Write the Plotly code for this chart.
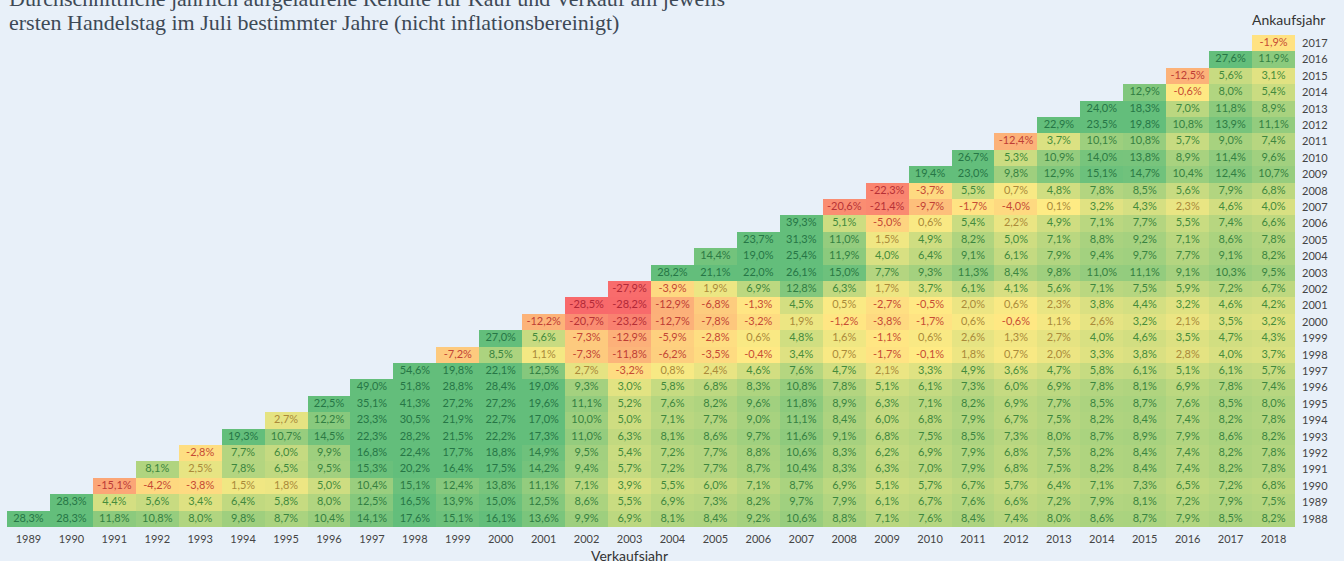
import plotly.graph_objects as go

# ---------------- data ----------------
sell_years = list(range(1989, 2019))   # Verkaufsjahr (columns)
buy_years = list(range(1988, 2018))    # Ankaufsjahr (rows)

# annualised return (%) for each buy year, sell years buy+1 .. 2018
r1988 = [28.3, 28.3, 11.8, 10.8, 8.0, 9.8, 8.7, 10.4, 14.1, 17.6, 15.1, 16.1, 13.6, 9.9, 6.9,
         8.1, 8.4, 9.2, 10.6, 8.8, 7.1, 7.6, 8.4, 7.4, 8.0, 8.6, 8.7, 7.9, 8.5, 8.2]
r1989 = [28.3, 4.4, 5.6, 3.4, 6.4, 5.8, 8.0, 12.5, 16.5, 13.9, 15.0, 12.5, 8.6, 5.5, 6.9,
         7.3, 8.2, 9.7, 7.9, 6.1, 6.7, 7.6, 6.6, 7.2, 7.9, 8.1, 7.2, 7.9, 7.5]
r1990 = [-15.1, -4.2, -3.8, 1.5, 1.8, 5.0, 10.4, 15.1, 12.4, 13.8, 11.1, 7.1, 3.9, 5.5, 6.0,
         7.1, 8.7, 6.9, 5.1, 5.7, 6.7, 5.7, 6.4, 7.1, 7.3, 6.5, 7.2, 6.8]
r1991 = [8.1, 2.5, 7.8, 6.5, 9.5, 15.3, 20.2, 16.4, 17.5, 14.2, 9.4, 5.7, 7.2, 7.7, 8.7,
         10.4, 8.3, 6.3, 7.0, 7.9, 6.8, 7.5, 8.2, 8.4, 7.4, 8.2, 7.8]
r1992 = [-2.8, 7.7, 6.0, 9.9, 16.8, 22.4, 17.7, 18.8, 14.9, 9.5, 5.4, 7.2, 7.7, 8.8, 10.6,
         8.3, 6.2, 6.9, 7.9, 6.8, 7.5, 8.2, 8.4, 7.4, 8.2, 7.8]
r1993 = [19.3, 10.7, 14.5, 22.3, 28.2, 21.5, 22.2, 17.3, 11.0, 6.3, 8.1, 8.6, 9.7, 11.6, 9.1,
         6.8, 7.5, 8.5, 7.3, 8.0, 8.7, 8.9, 7.9, 8.6, 8.2]
r1994 = [2.7, 12.2, 23.3, 30.5, 21.9, 22.7, 17.0, 10.0, 5.0, 7.1, 7.7, 9.0, 11.1, 8.4, 6.0,
         6.8, 7.9, 6.7, 7.5, 8.2, 8.4, 7.4, 8.2, 7.8]
r1995 = [22.5, 35.1, 41.3, 27.2, 27.2, 19.6, 11.1, 5.2, 7.6, 8.2, 9.6, 11.8, 8.9, 6.3, 7.1,
         8.2, 6.9, 7.7, 8.5, 8.7, 7.6, 8.5, 8.0]
r1996 = [49.0, 51.8, 28.8, 28.4, 19.0, 9.3, 3.0, 5.8, 6.8, 8.3, 10.8, 7.8, 5.1, 6.1, 7.3,
         6.0, 6.9, 7.8, 8.1, 6.9, 7.8, 7.4]
r1997 = [54.6, 19.8, 22.1, 12.5, 2.7, -3.2, 0.8, 2.4, 4.6, 7.6, 4.7, 2.1, 3.3, 4.9, 3.6,
         4.7, 5.8, 6.1, 5.1, 6.1, 5.7]
r1998 = [-7.2, 8.5, 1.1, -7.3, -11.8, -6.2, -3.5, -0.4, 3.4, 0.7, -1.7, -0.1, 1.8, 0.7, 2.0,
         3.3, 3.8, 2.8, 4.0, 3.7]
r1999 = [27.0, 5.6, -7.3, -12.9, -5.9, -2.8, 0.6, 4.8, 1.6, -1.1, 0.6, 2.6, 1.3, 2.7, 4.0,
         4.6, 3.5, 4.7, 4.3]
r2000 = [-12.2, -20.7, -23.2, -12.7, -7.8, -3.2, 1.9, -1.2, -3.8, -1.7, 0.6, -0.6, 1.1, 2.6,
         3.2, 2.1, 3.5, 3.2]
r2001 = [-28.5, -28.2, -12.9, -6.8, -1.3, 4.5, 0.5, -2.7, -0.5, 2.0, 0.6, 2.3, 3.8, 4.4, 3.2,
         4.6, 4.2]
r2002 = [-27.9, -3.9, 1.9, 6.9, 12.8, 6.3, 1.7, 3.7, 6.1, 4.1, 5.6, 7.1, 7.5, 5.9, 7.2, 6.7]
r2003 = [28.2, 21.1, 22.0, 26.1, 15.0, 7.7, 9.3, 11.3, 8.4, 9.8, 11.0, 11.1, 9.1, 10.3, 9.5]
r2004 = [14.4, 19.0, 25.4, 11.9, 4.0, 6.4, 9.1, 6.1, 7.9, 9.4, 9.7, 7.7, 9.1, 8.2]
r2005 = [23.7, 31.3, 11.0, 1.5, 4.9, 8.2, 5.0, 7.1, 8.8, 9.2, 7.1, 8.6, 7.8]
r2006 = [39.3, 5.1, -5.0, 0.6, 5.4, 2.2, 4.9, 7.1, 7.7, 5.5, 7.4, 6.6]
r2007 = [-20.6, -21.4, -9.7, -1.7, -4.0, 0.1, 3.2, 4.3, 2.3, 4.6, 4.0]
r2008 = [-22.3, -3.7, 5.5, 0.7, 4.8, 7.8, 8.5, 5.6, 7.9, 6.8]
r2009 = [19.4, 23.0, 9.8, 12.9, 15.1, 14.7, 10.4, 12.4, 10.7]
r2010 = [26.7, 5.3, 10.9, 14.0, 13.8, 8.9, 11.4, 9.6]
r2011 = [-12.4, 3.7, 10.1, 10.8, 5.7, 9.0, 7.4]
r2012 = [22.9, 23.5, 19.8, 10.8, 13.9, 11.1]
r2013 = [24.0, 18.3, 7.0, 11.8, 8.9]
r2014 = [12.9, -0.6, 8.0, 5.4]
r2015 = [-12.5, 5.6, 3.1]
r2016 = [27.6, 11.9]
r2017 = [-1.9]

rows = [r1988, r1989, r1990, r1991, r1992, r1993, r1994, r1995, r1996, r1997,
        r1998, r1999, r2000, r2001, r2002, r2003, r2004, r2005, r2006, r2007,
        r2008, r2009, r2010, r2011, r2012, r2013, r2014, r2015, r2016, r2017]

title_line1 = "Durchschnittliche jährlich aufgelaufene Rendite für Kauf und Verkauf am jeweils"
title_line2 = "ersten Handelstag im Juli bestimmter Jahre (nicht inflationsbereinigt)"

# ---------------- build matrix ----------------
z = []
for row in rows:
    z.append([None] * (len(sell_years) - len(row)) + row)

tx, ty, tt, tc = [], [], [], []


def lerp(c1, c2, t):
    t = max(0.0, min(1.0, t))
    return tuple(int(round(a + (b - a) * t)) for a, b in zip(c1, c2))


def text_color(v):
    if v < 0:
        c = lerp((200, 78, 52), (178, 40, 55), -v / 28.5)
    elif v < 3:
        c = (170, 138, 58)
    else:
        c = lerp((72, 142, 58), (38, 118, 70), (v - 3) / 14)
    return "rgb(%d,%d,%d)" % c


for b, row in zip(buy_years, z):
    for s, v in zip(sell_years, row):
        if v is None:
            continue
        tx.append(s)
        ty.append(b)
        tt.append(("%.1f" % v).replace(".", ",") + "%")
        tc.append(text_color(v))

zmin, zmax = -28.5, 16.0
mid = (0 - zmin) / (zmax - zmin)
colorscale = [[0.0, "#F8696B"], [mid, "#FFEB84"], [1.0, "#63BE7B"]]

BG = "#e8f0f9"
FONT = "Lato"

fig = go.Figure()
fig.add_trace(go.Heatmap(
    x=sell_years, y=buy_years, z=z,
    zmin=zmin, zmax=zmax, colorscale=colorscale,
    showscale=False, hoverongaps=False, xgap=0, ygap=0,
))
fig.add_trace(go.Scatter(
    x=tx, y=ty, text=tt, mode="text",
    textfont=dict(family=FONT, size=11, color=tc),
    hoverinfo="skip", showlegend=False,
))

W, H = 1344, 561
ml, mr, mt, mb = 7, 49, 35, 34
ph = H - mt - mb
pw = W - ml - mr


def py(pix):
    return (H - mb - pix) / ph


def px(pix):
    return (pix - ml) / pw


fig.update_layout(
    width=W, height=H,
    margin=dict(l=ml, r=mr, t=mt, b=mb, pad=0),
    paper_bgcolor=BG, plot_bgcolor=BG,
    showlegend=False,
    font=dict(family=FONT, color="#444444", size=11),
    xaxis=dict(range=[1988.5, 2018.5], tickmode="array", tickvals=sell_years,
               ticktext=[str(y) for y in sell_years], showgrid=False, zeroline=False,
               showline=False, ticks="", ticklabelstandoff=4,
               tickfont=dict(family=FONT, size=11, color="#444444")),
    yaxis=dict(range=[1987.5, 2017.5], tickmode="array", tickvals=buy_years,
               ticktext=[str(y) for y in buy_years], side="right", showgrid=False,
               zeroline=False, showline=False, ticks="", ticklabelstandoff=6,
               tickfont=dict(family=FONT, size=11, color="#444444")),
    annotations=[
        dict(text=title_line1, xref="paper", yref="paper", x=px(7),
             y=py(-2), xanchor="left", yanchor="middle", showarrow=False,
             font=dict(family="Liberation Serif", size=22, color="#3d4956")),
        dict(text=title_line2, xref="paper", yref="paper", x=px(7),
             y=py(22), xanchor="left", yanchor="middle", showarrow=False,
             font=dict(family="Liberation Serif", size=22, color="#3d4956")),
        dict(text="Ankaufsjahr", xref="paper", yref="paper", x=px(1327),
             y=py(20), xanchor="right", yanchor="middle", showarrow=False,
             font=dict(family=FONT, size=14, color="#333333")),
        dict(text="Verkaufsjahr", xref="paper", yref="paper", x=px(629),
             y=py(555), xanchor="center", yanchor="middle", showarrow=False,
             font=dict(family=FONT, size=14, color="#333333")),
    ],
)

fig.write_html("out.html", config={"displayModeBar": False},
               post_script="document.body.style.margin='0';document.body.style.background='%s';" % BG)
